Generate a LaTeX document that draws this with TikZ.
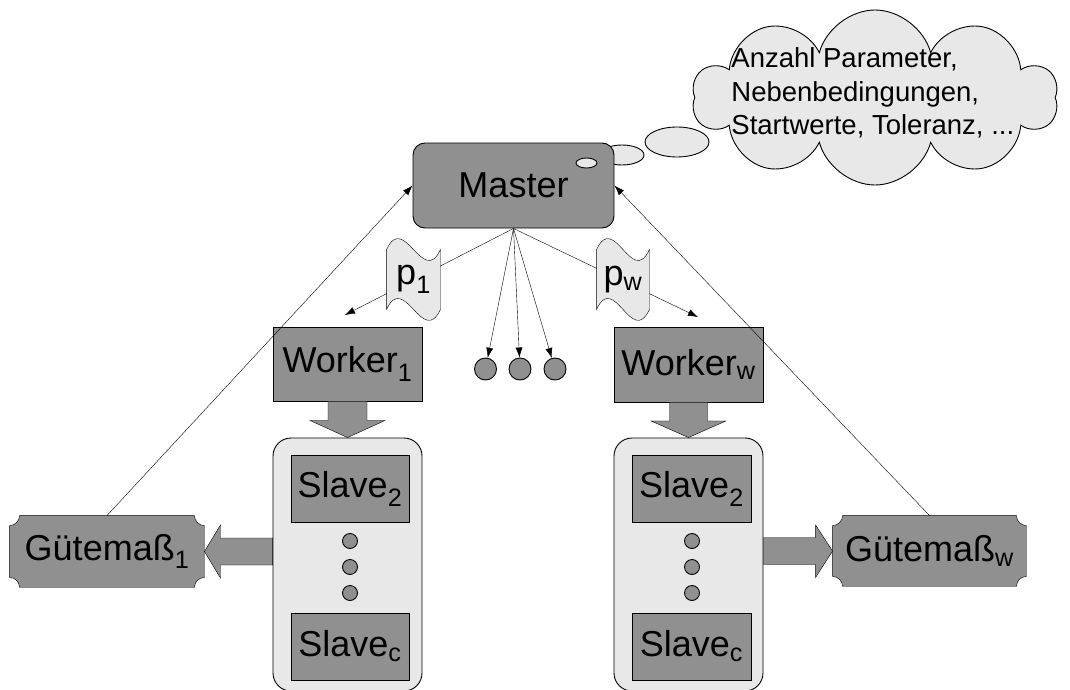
\documentclass[tikz,border=0pt]{standalone}
\usepackage{fontspec}
\setmainfont{Liberation Sans}
\usetikzlibrary{arrows.meta, shapes.geometric, shapes.symbols, calc, backgrounds}

\definecolor{boxgray}{RGB}{144,144,144}
\definecolor{palegray}{RGB}{232,232,232}

\newcommand\plaque[1]{\filldraw[fill=boxgray] ($(#1.north west)+(0,10)$) .. controls +(5.5,0) and +(0,5.5) .. ($(#1.north west)+(10,0)$) -- ($(#1.north east)+(-10,0)$) .. controls +(0,5.5) and +(-5.5,0) .. ($(#1.north east)+(0,10)$) -- ($(#1.south east)+(0,-10)$) .. controls +(-5.5,0) and +(0,-5.5) .. ($(#1.south east)+(-10,0)$) -- ($(#1.south west)+(10,0)$) .. controls +(0,-5.5) and +(5.5,0) .. ($(#1.south west)+(0,-10)$) -- cycle;}
\newcommand\tape[1]{\filldraw[fill=palegray] (#1.north west) .. controls +(17.7,-38) and +(-17.7,38) .. (#1.north east) -- (#1.south east) .. controls +(-17.7,38) and +(17.7,-38) .. (#1.south west) -- cycle;}

\begin{document}
\begin{tikzpicture}[x=1pt, y=-1pt, >={Latex[length=10pt,width=7pt]}, line width=0.9pt, font=\fontsize{36}{43}\selectfont,
    dark/.style={rectangle, draw, fill=boxgray, inner sep=0pt},
    pale/.style={draw, fill=palegray, inner sep=0pt},
    dot/.style={circle, draw, fill=boxgray, inner sep=0pt},
    blockarrow/.style={draw, fill=boxgray, line join=miter}]
        \useasboundingbox (0,0) rectangle (1070,690);

        \node[cloud, cloud puffs=10, cloud ignores aspect, pale, minimum width=365pt, minimum height=175pt] (thought) at (875,97.5) {};
        \node[anchor=north west, inner sep=0pt, align=left, font=\fontsize{27.5}{33.5}\selectfont] (params) at (731,47.5) {Anzahl Parameter,\\Nebenbedingungen,\\Startwerte, Toleranz, ...};
        \node[ellipse, pale, minimum width=64pt, minimum height=30pt] (bub3) at (677,142) {};
        \node[ellipse, pale, minimum width=44pt, minimum height=20pt] (bub2) at (622,155) {};

        \node[dark, rounded corners=12pt, minimum width=201pt, minimum height=85pt] (master) at (513.5,185.5) {Master};
        \node[ellipse, pale, minimum width=21pt, minimum height=10pt] (bub1) at (586.5,163) {};

        \node[dark, minimum width=149pt, minimum height=74pt] (worker1) at (347.5,364) {Worker\textsubscript{1}};
        \node[dark, minimum width=149pt, minimum height=75pt] (workerw) at (688.5,364.5) {Worker\textsubscript{w}};

        \node[pale, rounded corners=18pt, minimum width=149pt, minimum height=253pt] (pool1) at (347.5,564.5) {};
        \node[pale, rounded corners=18pt, minimum width=149pt, minimum height=253pt] (poolw) at (688.5,564.5) {};
        \node[dark, minimum width=118pt, minimum height=67pt] (slave12) at (350,488.5) {Slave\textsubscript{2}};
        \node[dark, minimum width=118pt, minimum height=67pt] (slave1c) at (350,646.5) {Slave\textsubscript{c}};
        \node[dark, minimum width=119pt, minimum height=67pt] (slavew2) at (691.5,488.5) {Slave\textsubscript{2}};
        \node[dark, minimum width=119pt, minimum height=67pt] (slavewc) at (691.5,646.5) {Slave\textsubscript{c}};
        \foreach \y [count=\i] in {541,567,593} {
            \node[dot, minimum size=15pt] (dot1\i) at (350,\y) {};
            \node[dot, minimum size=15pt] (dotw\i) at (692,\y) {};
        }
        \foreach \x [count=\i] in {485.5,520,555}
            \node[dot, minimum size=22pt] (wdot\i) at (\x,369) {};

        \node[minimum width=194pt, minimum height=71pt, inner sep=0pt] (gm1) at (107,551.5) {Gütemaß\textsubscript{1}};
        \node[minimum width=193pt, minimum height=70pt, inner sep=0pt] (gmw) at (929.5,551) {Gütemaß\textsubscript{w}};
        \node[minimum width=53pt, minimum height=59pt, inner sep=0pt] (p1) at (413.5,279.5) {p\textsubscript{1}};
        \node[minimum width=52pt, minimum height=59pt, inner sep=0pt] (pw) at (623,279.5) {p\textsubscript{w}};
        \coordinate (w1in) at (345,315);
        \coordinate (wwin) at (698,317);

        \begin{pgfonlayer}{background}
            \draw[->] (master.south) -- (w1in);
            \draw[->] (master.south) -- (wwin);
            \tape{p1}
            \tape{pw}
            \plaque{gm1}
            \plaque{gmw}
        \end{pgfonlayer}

        \foreach \i in {1,2,3}
            \draw[->] (master.south) -- (wdot\i);
        \draw[->] (gm1.north) -- (master.west);
        \draw[->] (gmw.north) -- (master.east);

        \draw[blockarrow] ($(worker1.south)+(-19.5,0)$) -- ++(0,19) -- ++(-18,0) -- (pool1.north) -- ($(worker1.south)+(37.5,19)$) -- ++(-18,0) -- ++(0,-19) -- cycle;
        \draw[blockarrow] ($(workerw.south)+(-19,0)$) -- ++(0,18.5) -- ++(-18.5,0) -- (poolw.north) -- ($(workerw.south)+(37.5,18.5)$) -- ++(-18.5,0) -- ++(0,-18.5) -- cycle;
        \draw[blockarrow] (gm1.east) -- ++(16,-26.5) -- ++(0,13) -- ($(pool1.west |- gm1.east)+(0,-13.5)$) -- ++(0,27) -- ($(gm1.east)+(16,13.5)$) -- ++(0,13) -- cycle;
        \draw[blockarrow] (gmw.west) -- ++(-17,-26) -- ++(0,12.5) -- ($(poolw.east |- gmw.west)+(0,-13.5)$) -- ++(0,27) -- ($(gmw.west)+(-17,13.5)$) -- ++(0,13) -- cycle;
    \end{tikzpicture}
\end{document}
